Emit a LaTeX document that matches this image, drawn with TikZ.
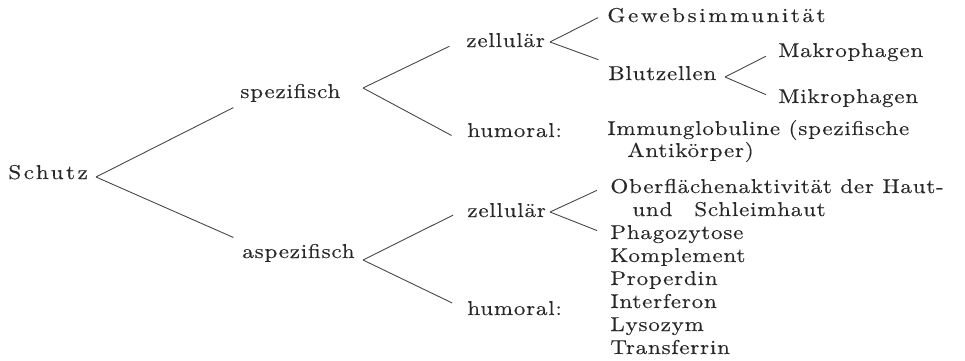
\documentclass[tikz,border=0pt]{standalone}
\usepackage{fontspec}
\setmainfont{lmroman10-regular.otf}[FakeStretch=1.15,LetterSpace=4,FakeBold=0.3]
\usepackage{tikz}
\usetikzlibrary{positioning}
\definecolor{tinta}{RGB}{40,40,40}
\tikzset{
  rama/.style={anchor=base west, inner sep=2pt,
    font=\fontsize{10}{12}\selectfont, text=tinta},
  weit/.style={rama, font=\fontsize{10}{12}\selectfont\addfontfeature{LetterSpace=13}},
  linea/.style={draw=tinta!85, line width=0.45pt}
}

\begin{document}
\begin{tikzpicture}[x=0.5pt,y=-0.5pt]
  \useasboundingbox (0,0) rectangle (965,360);
  % Root
  \node[weit] (schutz) at (4,179) {Schutz};
  \node[rama] (spez) at (236,98) {spezifisch};
  \node[rama] (aspez) at (238,258) {aspezifisch};
  % Specific branch
  \node[rama] (zell1) at (462,47) {zellulär};
  \node[rama] (hum1) at (463,137) {humoral:};
  \node[weit] (gewebe) at (603,22) {Gewebsimmunität};
  \node[rama] (blut) at (604,80) {Blutzellen};
  \node[rama] (makro) at (774,57) {Makrophagen};
  \node[rama] (mikro) at (774,103) {Mikrophagen};
  \node[rama] (immun) at (603,135) {Immunglobuline (spezifische};
  \node[rama] (antik) at (623,157) {Antikörper)};
  % Unspecific branch
  \node[rama] (zell2) at (463,217) {zellulär};
  \node[rama] (hum2) at (463,315) {humoral:};
  \node[rama] (oberfl) at (606,193) {Oberflächenaktivität der Haut-};
  \node[rama] (schleim) at (628,216) {und\hspace{1.1em}Schleimhaut};
  \node[rama] (phago) at (606,239) {Phagozytose};
  \node[rama] (kompl) at (606,262) {Komplement};
  \node[rama] (proper) at (606,285) {Properdin};
  \node[rama] (interf) at (606,308) {Interferon};
  \node[rama] (lyso) at (606,331) {Lysozym};
  \node[rama] (transf) at (606,354) {Transferrin};
  % Forks
  \coordinate (schutz-fork) at (96,177);
  \coordinate (spez-fork) at (363,88);
  \coordinate (aspez-fork) at (363,260);
  \coordinate (zell1-fork) at (550,42);
  \coordinate (zell2-fork) at (550,212);
  \coordinate (blut-fork) at (725,77);
  % Connectors
  \draw[linea, shorten >=1.5pt] (schutz-fork) -- (spez.south west);
  \draw[linea, shorten >=2.5pt] (schutz-fork) -- (aspez.north west);
  \draw[linea, shorten >=7pt] (spez-fork) -- (zell1.west);
  \draw[linea, shorten >=6.5pt] (spez-fork) -- (hum1.south west);
  \draw[linea, shorten >=5.5pt] (aspez-fork) -- (zell2.west);
  \draw[linea, shorten >=6pt] (aspez-fork) -- (hum2.west);
  \draw[linea, shorten >=2.75pt] (zell1-fork) -- (gewebe.west);
  \draw[linea, shorten >=3pt] (zell1-fork) -- (blut.north west);
  \draw[linea, shorten >=5pt] (zell2-fork) -- (oberfl.west);
  \draw[linea, shorten >=4.8pt] (zell2-fork) -- (phago.west);
  \draw[linea, shorten >=4.5pt] (blut-fork) -- (makro.west);
  \draw[linea, shorten >=4.4pt] (blut-fork) -- (mikro.west);
\end{tikzpicture}
\end{document}
